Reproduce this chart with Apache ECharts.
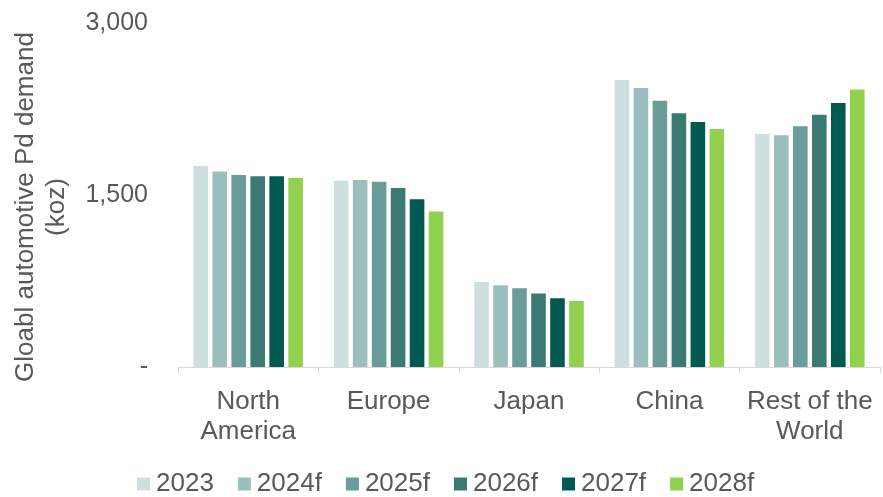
<!DOCTYPE html>
<html><head><meta charset="utf-8">
<script src="https://cdn.jsdelivr.net/npm/echarts@6/dist/echarts.min.js"></script>
<style>html,body{margin:0;padding:0;background:#fff}#c{width:883px;height:497px}</style>
</head><body><div id="c"></div>
<script>
const categories = ['North\nAmerica', 'Europe', 'Japan', 'China', 'Rest of the\nWorld'];
const seriesNames = ['2023', '2024f', '2025f', '2026f', '2027f', '2028f'];
const s2023  = [1753, 1625, 741, 2503, 2032];
const s2024f = [1706, 1631, 712, 2433, 2020];
const s2025f = [1674, 1616, 686, 2322, 2099];
const s2026f = [1663, 1561, 642, 2212, 2200];
const s2027f = [1663, 1462, 599, 2136, 2302];
const s2028f = [1648, 1357, 576, 2075, 2421];
const yTicks = [0, 1500, 3000];
const colors = ['#cde0df', '#9bbfbd', '#6a9d99', '#3a7a73', '#005a50', '#92d050'];
const values = [s2023, s2024f, s2025f, s2026f, s2027f, s2028f];
const font = 'Liberation Sans, Arial, sans-serif';
const chart = echarts.init(document.getElementById('c'));
chart.setOption({
  animation: false,
  color: colors,
  grid: {left: 178, right: 3, top: 23, bottom: 130, containLabel: false, outerBoundsMode: 'none'},
  legend: {
    data: seriesNames, left: 137, top: 471, padding: 0, itemWidth: 13, itemHeight: 13, itemGap: 24,
    icon: 'rect',
    textStyle: {fontFamily: font, fontSize: 26, color: '#595959', padding: [0,0,0,1]}
  },
  xAxis: {
    type: 'category', data: categories,
    axisLine: {lineStyle: {color: '#d9d9d9', width: 1}},
    axisTick: {show: true, length: 6, lineStyle: {color: '#d9d9d9'}},
    axisLabel: {fontFamily: font, fontSize: 26, color: '#595959', lineHeight: 30, margin: 20, interval: 0}
  },
  yAxis: {
    type: 'value', min: 0, max: 3000, interval: 1500,
    name: 'Gloabl automotive Pd demand\n(koz)', nameLocation: 'middle', nameRotate: 90, nameGap: 106,
    nameTextStyle: {fontFamily: font, fontSize: 26, color: '#595959', lineHeight: 31, padding: [0, 24, 0, 0]},
    axisLine: {show: false}, axisTick: {show: false}, splitLine: {show: false},
    axisLabel: {fontFamily: font, fontSize: 25, color: '#595959', margin: 30,
      formatter: v => yTicks.indexOf(v) >= 0 ? (v === 0 ? '-' : v.toLocaleString('en-US')) : ''}
  },
  series: seriesNames.map((n, i) => ({
    name: n, type: 'bar', data: values[i],
    barGap: '30%', barCategoryGap: '22%',
    itemStyle: {color: colors[i]}
  }))
});
</script></body></html>
